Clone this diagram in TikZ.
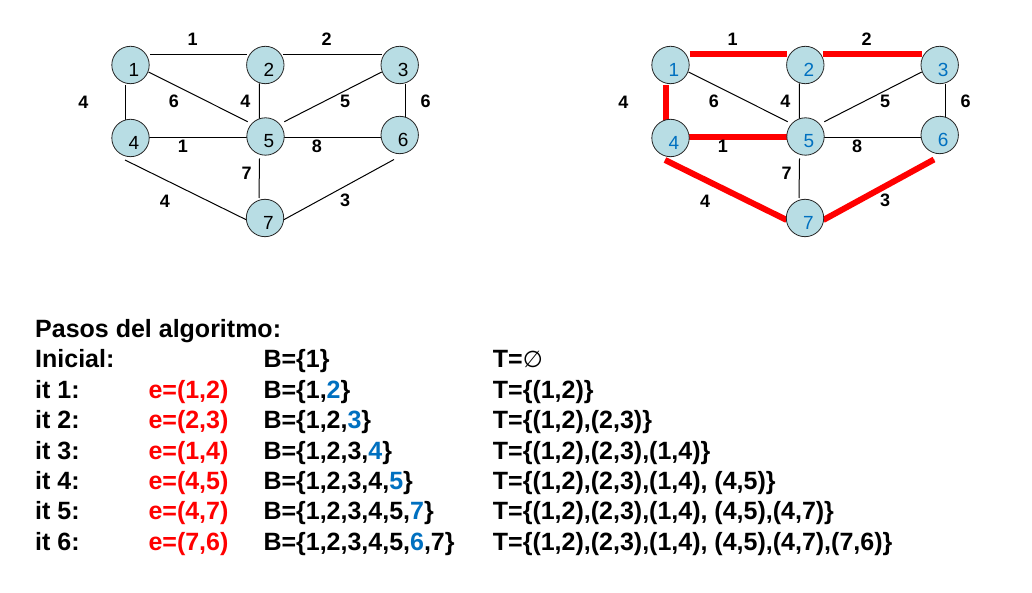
\documentclass[tikz,border=0pt]{standalone}
\usepackage{fontspec}
\setmainfont{Liberation Sans}
\newfontfamily\djv{DejaVu Sans}
\usetikzlibrary{backgrounds}
\definecolor{nodefill}{HTML}{B8DDE4}
\definecolor{lblue}{HTML}{0070C0}
\definecolor{ered}{HTML}{FF0000}
\tikzset{
  vlbl/.style={font=\fontsize{19}{19}\selectfont, inner sep=0pt, xshift=3.5pt, yshift=-4.5pt},
  vtx/.style={circle, draw=black!85, line width=0.8pt, fill=nodefill,
    minimum size=37.4pt, inner sep=0pt, label={[vlbl]center:#1}},
  wlbl/.style={font=\fontsize{18}{18}\selectfont\bfseries, inner sep=0pt},
  thinedge/.style={line width=1pt, black},
  treeedge/.style={line width=6pt, ered},
  row/.style={anchor=base west, inner sep=0pt, font=\fontsize{25}{30}\selectfont\bfseries},
}
\newcommand\kgraph[2]{%
  \node[vtx={\color{#2}1}] (#1n1) at (130.5,65) {};
  \node[vtx={\color{#2}2}] (#1n2) at (265.3,65) {};
  \node[vtx={\color{#2}3}] (#1n3) at (399.7,65) {};
  \node[vtx={\color{#2}4}] (#1n4) at (130.5,138) {};
  \node[vtx={\color{#2}5}] (#1n5) at (265.5,136.5) {};
  \node[vtx={\color{#2}6}] (#1n6) at (399.7,135) {};
  \node[vtx={\color{#2}7}] (#1n7) at (265,218) {};
  \node[wlbl] (#1w12) at (192.7,39.3) {1};
  \node[wlbl] (#1w23) at (326.7,39.3) {2};
  \node[wlbl] (#1w14) at (83.3,102) {4};
  \node[wlbl] (#1w15) at (173.8,101.5) {6};
  \node[wlbl] (#1w25) at (245.3,101.5) {4};
  \node[wlbl] (#1w35) at (345,101.5) {5};
  \node[wlbl] (#1w36) at (425.7,101.5) {6};
  \node[wlbl] (#1w45) at (182.8,146.3) {1};
  \node[wlbl] (#1w56) at (317,146.3) {8};
  \node[wlbl] (#1w57) at (246.7,173.3) {7};
  \node[wlbl] (#1w47) at (165,201.3) {4};
  \node[wlbl] (#1w67) at (345,200.7) {3};
  \begin{scope}[on background layer]
    \draw[thinedge] ([shift={(19.5,-10)}]#1n1.center) -- ([shift={(-18,-10)}]#1n2.center);
    \draw[thinedge] ([shift={(18,-10)}]#1n2.center) -- ([shift={(-18,-10)}]#1n3.center);
    \draw[thinedge] ([shift={(-4.8,20)}]#1n1.center) -- ([shift={(-4.8,-16)}]#1n4.center);
    \draw[thinedge] ([shift={(18,7)}]#1n1.center) -- ([shift={(-17.8,-14.8)}]#1n5.center);
    \draw[thinedge] ([shift={(-6,18.5)}]#1n2.center) -- ([shift={(-6,-15)}]#1n5.center);
    \draw[thinedge] ([shift={(-18,7)}]#1n3.center) -- ([shift={(18.8,-14.8)}]#1n5.center);
    \draw[thinedge] ([shift={(6,19)}]#1n3.center) -- ([shift={(6,-16)}]#1n6.center);
    \draw[thinedge] ([shift={(18,-0.7)}]#1n4.center) -- ([shift={(-18,0.8)}]#1n5.center);
    \draw[thinedge] ([shift={(18,0.8)}]#1n5.center) -- ([shift={(-18,2.3)}]#1n6.center);
    \draw[thinedge] ([shift={(-6,22)}]#1n5.center) -- ([shift={(-6,-20)}]#1n7.center);
    \draw[thinedge] ([shift={(-5.5,22)}]#1n4.center) -- ([shift={(-18.3,2)}]#1n7.center);
    \draw[thinedge] ([shift={(-5.7,24.5)}]#1n6.center) -- ([shift={(18.3,2)}]#1n7.center);
  \end{scope}
}
\begin{document}
\begin{tikzpicture}[x=1pt,y=-1pt]
\useasboundingbox (0,0) rectangle (1032,593);
\begin{scope}[on background layer]
  \fill[white] (0,0) rectangle (1032,593);
\end{scope}
\kgraph{a}{black}
\begin{scope}[xshift=540pt]
  \kgraph{b}{lblue}
  \begin{scope}[on background layer]
    \draw[treeedge] ([shift={(19,-10.7)}]bn1.center) -- ([shift={(-18,-10.7)}]bn2.center);
    \draw[treeedge] ([shift={(18,-10.7)}]bn2.center) -- ([shift={(-18,-10.7)}]bn3.center);
    \draw[treeedge] ([shift={(-4.8,20)}]bn1.center) -- ([shift={(-4.8,-16)}]bn4.center);
    \draw[treeedge] ([shift={(18,-0.7)}]bn4.center) -- ([shift={(-18,0.8)}]bn5.center);
    \draw[treeedge] ([shift={(-5.5,22)}]bn4.center) -- ([shift={(-18.3,2)}]bn7.center);
    \draw[treeedge] ([shift={(-5.7,24.5)}]bn6.center) -- ([shift={(18.3,2)}]bn7.center);
  \end{scope}
\end{scope}
% table
\node[row] (t0a) at (35,337.5) {Pasos del algoritmo:};
\node[row] (t1a) at (35,367.9) {Inicial:};
\node[row] (t1c) at (263.3,367.9) {B=\{1\}};
\node[row] (t1d) at (492.7,367.9) {T={\mdseries\djv\fontsize{23}{30}\selectfont ∅}};
\node[row] (t2a) at (35,398.3) {it 1:};
\node[row,text=ered] (t2b) at (148.3,398.3) {e=(1,2)};
\node[row] (t2c) at (263.3,398.3) {B=\{1,\textcolor{lblue}{2}\}};
\node[row] (t2d) at (492.7,398.3) {T=\{(1,2)\}};
\node[row] (t3a) at (35,428.7) {it 2:};
\node[row,text=ered] (t3b) at (148.3,428.7) {e=(2,3)};
\node[row] (t3c) at (263.3,428.7) {B=\{1,2,\textcolor{lblue}{3}\}};
\node[row] (t3d) at (492.7,428.7) {T=\{(1,2),(2,3)\}};
\node[row] (t4a) at (35,459.1) {it 3:};
\node[row,text=ered] (t4b) at (148.3,459.1) {e=(1,4)};
\node[row] (t4c) at (263.3,459.1) {B=\{1,2,3,\textcolor{lblue}{4}\}};
\node[row] (t4d) at (492.7,459.1) {T=\{(1,2),(2,3),(1,4)\}};
\node[row] (t5a) at (35,489.5) {it 4:};
\node[row,text=ered] (t5b) at (148.3,489.5) {e=(4,5)};
\node[row] (t5c) at (263.3,489.5) {B=\{1,2,3,4,\textcolor{lblue}{5}\}};
\node[row] (t5d) at (492.7,489.5) {T=\{(1,2),(2,3),(1,4), (4,5)\}};
\node[row] (t6a) at (35,519.9) {it 5:};
\node[row,text=ered] (t6b) at (148.3,519.9) {e=(4,7)};
\node[row] (t6c) at (263.3,519.9) {B=\{1,2,3,4,5,\textcolor{lblue}{7}\}};
\node[row] (t6d) at (492.7,519.9) {T=\{(1,2),(2,3),(1,4), (4,5),(4,7)\}};
\node[row] (t7a) at (35,550.3) {it 6:};
\node[row,text=ered] (t7b) at (148.3,550.3) {e=(7,6)};
\node[row] (t7c) at (263.3,550.3) {B=\{1,2,3,4,5,\textcolor{lblue}{6},7\}};
\node[row] (t7d) at (492.7,550.3) {T=\{(1,2),(2,3),(1,4), (4,5),(4,7),(7,6)\}};
\end{tikzpicture}
\end{document}
